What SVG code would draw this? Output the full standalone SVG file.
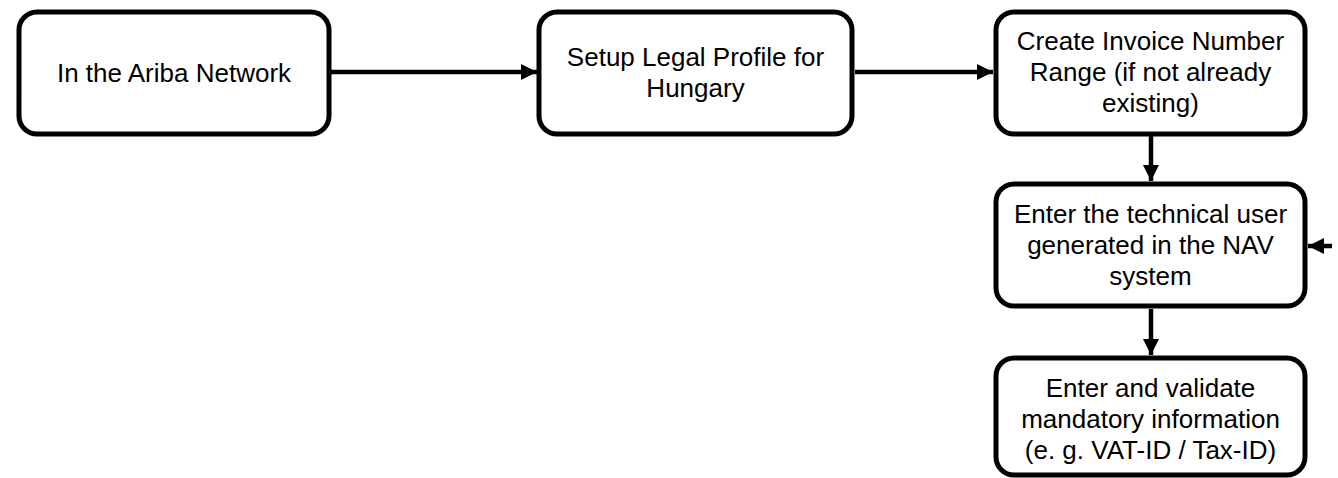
<svg xmlns="http://www.w3.org/2000/svg" width="1338" height="478" viewBox="0 0 1338 478">
<style>
.box{fill:#fff;stroke:#000;stroke-width:5}
.t{font-family:"Liberation Sans",Arial,sans-serif;font-size:26px;fill:#000;text-anchor:middle}
.c{stroke:#000;stroke-width:4.5;fill:none}
</style>
<defs>
<marker id="ah" viewBox="0 0 16 16" refX="16" refY="8" markerWidth="16" markerHeight="16" markerUnits="userSpaceOnUse" orient="auto">
<path d="M0,0 L16,8 L0,16 Z" fill="#000"/>
</marker>
</defs>
<g id="connectors">
<line class="c" x1="331" y1="72" x2="537" y2="72" marker-end="url(#ah)"/>
<line class="c" x1="855" y1="72" x2="993" y2="72" marker-end="url(#ah)"/>
<line class="c" x1="1151" y1="136" x2="1151" y2="181" marker-end="url(#ah)"/>
<line class="c" x1="1151" y1="309" x2="1151" y2="355" marker-end="url(#ah)"/>
<line class="c" x1="1332" y1="246" x2="1308" y2="246" marker-end="url(#ah)"/>
</g>
<g id="n1">
<rect class="box" x="19" y="12" width="310" height="122" rx="18"/>
<text class="t" x="174" y="82">In the Ariba Network</text>
</g>
<g id="n2">
<rect class="box" x="539" y="12" width="313" height="122" rx="18"/>
<text class="t" x="695.5" y="66">Setup Legal Profile for</text>
<text class="t" x="695.5" y="97">Hungary</text>
</g>
<g id="n3">
<rect class="box" x="996" y="12" width="309" height="122" rx="18"/>
<text class="t" x="1150.5" y="50">Create Invoice Number</text>
<text class="t" x="1150.5" y="81">Range (if not already</text>
<text class="t" x="1150.5" y="112">existing)</text>
</g>
<g id="n4">
<rect class="box" x="996" y="184" width="309" height="122" rx="18"/>
<text class="t" x="1150.5" y="223">Enter the technical user</text>
<text class="t" x="1150.5" y="254">generated in the NAV</text>
<text class="t" x="1150.5" y="285">system</text>
</g>
<g id="n5">
<rect class="box" x="996" y="358" width="309" height="117" rx="18"/>
<text class="t" x="1150.5" y="397">Enter and validate</text>
<text class="t" x="1150.5" y="428">mandatory information</text>
<text class="t" x="1150.5" y="459">(e. g. VAT-ID / Tax-ID)</text>
</g>
</svg>
